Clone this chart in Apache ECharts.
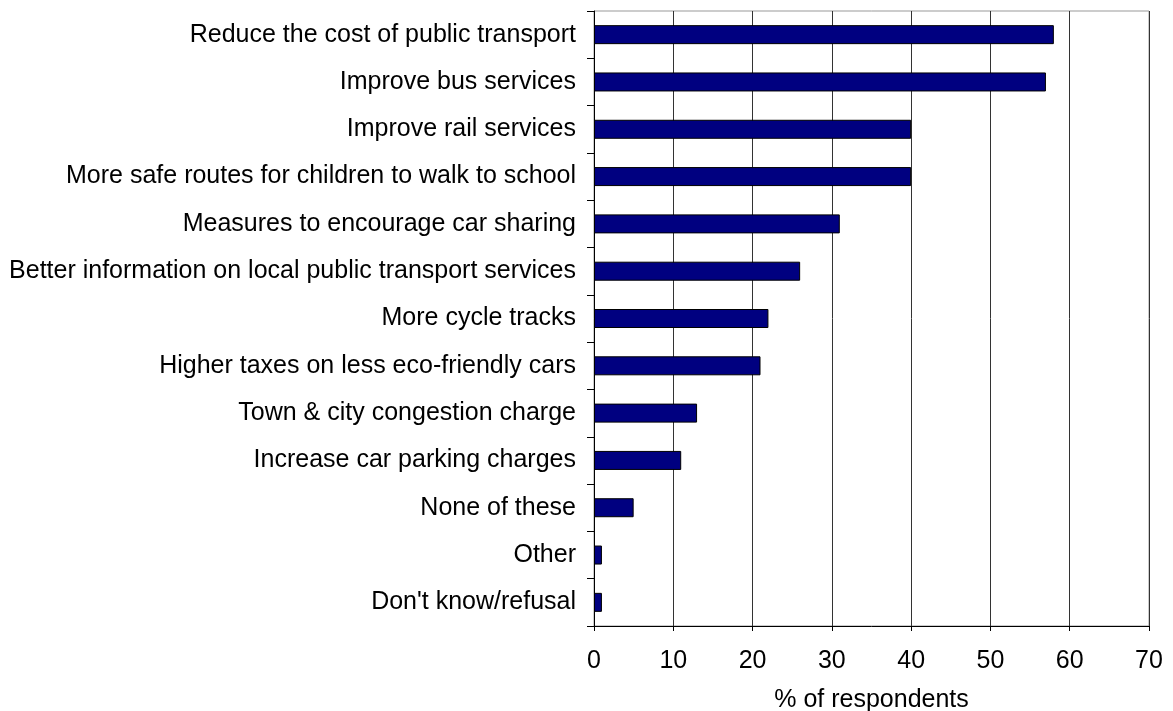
<!DOCTYPE html>
<html>
<head>
<meta charset="utf-8">
<script src="https://cdn.jsdelivr.net/npm/echarts@6/dist/echarts.min.js"></script>
<style>
html,body{margin:0;padding:0;background:#fff;}
#chart{width:1173px;height:711px;}
</style>
</head>
<body>
<div id="chart"></div>
<script>
const categories = [
  "Reduce the cost of public transport",
  "Improve bus services",
  "Improve rail services",
  "More safe routes for children to walk to school",
  "Measures to encourage car sharing",
  "Better information on local public transport services",
  "More cycle tracks",
  "Higher taxes on less eco-friendly cars",
  "Town & city congestion charge",
  "Increase car parking charges",
  "None of these",
  "Other",
  "Don't know/refusal"
];
const values = [58, 57, 40, 40, 31, 26, 22, 21, 13, 11, 5, 1, 1];
const xTicks = [0, 10, 20, 30, 40, 50, 60, 70];
const xAxisName = "% of respondents";

const FONT = "'Liberation Sans', Arial, sans-serif";
const chart = echarts.init(document.getElementById('chart'), null, {renderer: 'canvas'});
chart.setOption({
  animation: false,
  backgroundColor: '#fff',
  grid: {
    left: 594, right: 24, top: 11, bottom: 85,
    outerBoundsMode: 'none', containLabel: false,
    show: true, borderColor: '#999', borderWidth: 1, backgroundColor: 'transparent'
  },
  xAxis: {
    type: 'value',
    min: xTicks[0], max: xTicks[xTicks.length - 1], interval: 10,
    name: xAxisName, nameLocation: 'middle', nameGap: 62,
    nameTextStyle: {fontFamily: FONT, fontSize: 25, color: '#000'},
    axisLine: {show: true, lineStyle: {color: '#000', width: 1}},
    axisTick: {show: true, length: 5, lineStyle: {color: '#000'}},
    axisLabel: {fontFamily: FONT, fontSize: 25, color: '#000', margin: 23},
    splitLine: {show: true, lineStyle: {color: '#333', width: 1}}
  },
  yAxis: {
    type: 'category',
    data: categories,
    inverse: true,
    axisLine: {show: true, lineStyle: {color: '#000', width: 1}},
    axisTick: {show: true, length: 7, lineStyle: {color: '#000'}},
    axisLabel: {fontFamily: FONT, fontSize: 25, color: '#000', margin: 18},
    splitLine: {show: false}
  },
  series: [{
    type: 'bar',
    data: values,
    barWidth: 19,
    itemStyle: {color: '#000080', borderColor: '#000', borderWidth: 1}
  }]
});
</script>
</body>
</html>
